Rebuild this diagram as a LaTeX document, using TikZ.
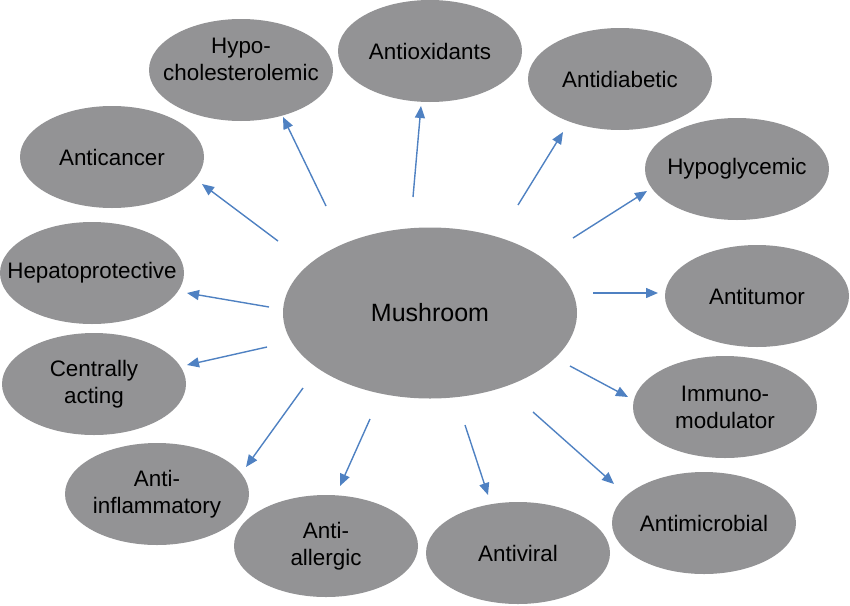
\documentclass[tikz,border=0pt]{standalone}
\usepackage{fontspec}
\setmainfont{Liberation Sans}
\usetikzlibrary{arrows.meta,shapes.geometric}
\definecolor{ovalgray}{RGB}{147,147,149}
\definecolor{arrowblue}{RGB}{79,129,194}
\begin{document}
\begin{tikzpicture}[x=1pt,y=-1pt,
  oval/.style={ellipse,fill=ovalgray,draw=none,minimum width=184pt,minimum height=102pt,inner sep=0pt},
  ovtext/.style={align=center,inner sep=0pt,font=\fontsize{22.4}{27}\selectfont,text=black},
  hub/.style={ellipse,fill=ovalgray,draw=none,minimum width=294pt,minimum height=171pt,inner sep=0pt},
  hubtext/.style={inner sep=0pt,font=\fontsize{25}{30}\selectfont,text=black},
  link/.style={draw=arrowblue,line width=1.4pt,-{Triangle[length=12pt,width=10pt]}}]
\useasboundingbox (0,0) rectangle (850,605);
\node[hub,label={[hubtext]center:Mushroom}] (m) at (430,313) {};
\node[oval,label={[ovtext,yshift=11pt]center:Hypo-\\cholesterolemic}] (hc) at (241,70) {};
\node[oval,label={[ovtext]center:Antioxidants}] (ao) at (430,51) {};
\node[oval,label={[ovtext]center:Antidiabetic}] (ad) at (620,79) {};
\node[oval,label={[ovtext]center:Hypoglycemic}] (hg) at (737,169) {};
\node[oval,label={[ovtext]center:Antitumor}] (at) at (757,296) {};
\node[oval,label={[ovtext]center:Immuno-\\modulator}] (im) at (725,407) {};
\node[oval,label={[ovtext]center:Antimicrobial}] (am) at (704,523) {};
\node[oval,label={[ovtext]center:Antiviral}] (av) at (518,553) {};
\node[oval,label={[ovtext]center:Anti-\\allergic}] (aa) at (326,546) {};
\node[oval,label={[ovtext]center:Anti-\\inflammatory}] (ai) at (157,494) {};
\node[oval,label={[ovtext]center:Centrally\\acting}] (ca) at (94,384) {};
\node[oval,label={[ovtext]center:Hepatoprotective}] (hp) at (92,273) {};
\node[oval,label={[ovtext]center:Anticancer}] (ac) at (112,157) {};
% arrow ends
\coordinate (s1) at (326,206); \coordinate (e1) at (283,117);
\coordinate (s2) at (278,241); \coordinate (e2) at (202,184);
\coordinate (s3) at (269,307); \coordinate (e3) at (187,293);
\coordinate (s4) at (267,347); \coordinate (e4) at (187,365);
\coordinate (s5) at (413,197); \coordinate (e5) at (421,106);
\coordinate (s6) at (518,205); \coordinate (e6) at (563,132);
\coordinate (s7) at (573,238); \coordinate (e7) at (647,191);
\coordinate (s8) at (593,293); \coordinate (e8) at (658,293);
\coordinate (s9) at (570,366); \coordinate (e9) at (628,397);
\coordinate (s10) at (533,412); \coordinate (e10) at (614,484);
\coordinate (s11) at (465,425); \coordinate (e11) at (488,495);
\coordinate (s12) at (370,419); \coordinate (e12) at (340,486);
\coordinate (s13) at (303,388); \coordinate (e13) at (246,467);
\foreach \i in {1,...,13} {\draw[link] (s\i) -- (e\i);}
\end{tikzpicture}
\end{document}
